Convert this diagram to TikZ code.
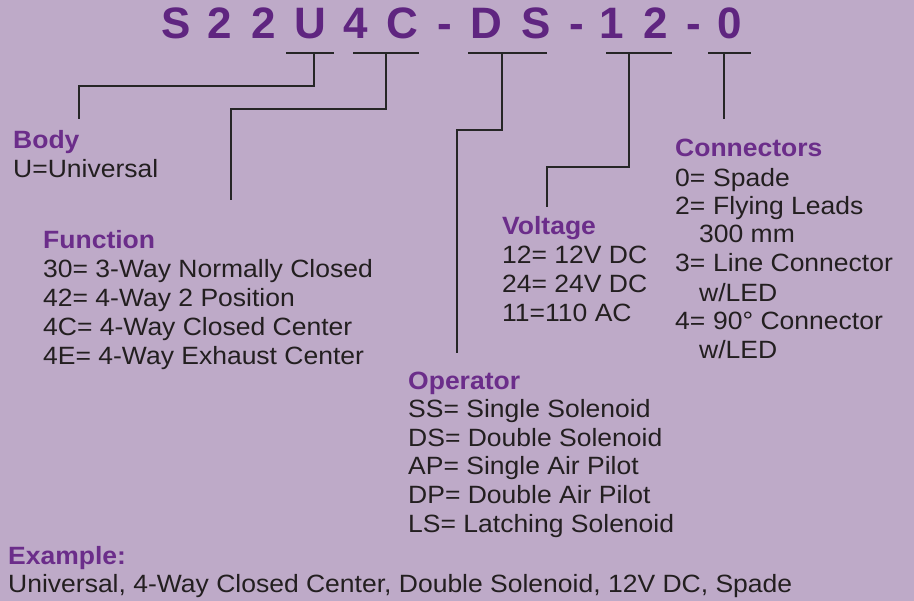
\documentclass[tikz,border=0pt]{standalone}
\usepackage{fontspec}
\setmainfont{Liberation Sans}[FakeStretch=1.06]
\newfontfamily\titlefont{Liberation Sans}
\definecolor{bg}{HTML}{BEAAC8}
\definecolor{headc}{HTML}{6B2D8A}
\definecolor{titlec}{HTML}{5F2580}
\definecolor{txtc}{HTML}{231F20}
\definecolor{linec}{HTML}{262626}
\tikzset{
  txt/.style={anchor=base west, inner sep=0pt, text=txtc, font=\fontsize{25}{29}\selectfont},
  head/.style={anchor=base west, inner sep=0pt, text=headc, font=\fontsize{25}{29}\selectfont\bfseries},
  tchar/.style={anchor=base, inner sep=0pt, text=titlec, font=\titlefont\fontsize{44}{50}\selectfont\bfseries},
  uline/.style={draw=linec, line width=2.6pt},
  conn/.style={draw=linec, line width=1.3pt},
}
\newcommand{\lbl}[1]{\makebox[38pt][l]{#1}}
\begin{document}
\begin{tikzpicture}[x=1pt,y=-1pt]
\fill[bg] (0,0) rectangle (914,601);
\useasboundingbox (0,0) rectangle (914,601);
% title characters
\foreach \c/\x/\n in {S/176/t1,2/220/t2,2/263.5/t3,U/310/t4,4/356/t5,C/402.5/t6,-/445/t7,D/486/t8,S/536/t9,-/576.5/t10,1/611.5/t11,2/655.5/t12,-/693.5/t13,0/729.5/t14}
  \node[tchar] (\n) at (\x,39) {\c};
% underline coordinates
\coordinate (uA1) at (286,53); \coordinate (uA2) at (334,53); \coordinate (uA) at (314,53);
\coordinate (uB1) at (353,53); \coordinate (uB2) at (419,53); \coordinate (uB) at (386,53);
\coordinate (uC1) at (468,53); \coordinate (uC2) at (547,53); \coordinate (uC) at (502,53);
\coordinate (uD1) at (606,53); \coordinate (uD2) at (672,53); \coordinate (uD) at (629,53);
\coordinate (uE1) at (708,53); \coordinate (uE2) at (751,53); \coordinate (uE) at (724,53);
\draw[uline] (uA1) -- (uA2);
\draw[uline] (uB1) -- (uB2);
\draw[uline] (uC1) -- (uC2);
\draw[uline] (uD1) -- (uD2);
\draw[uline] (uE1) -- (uE2);
% connector end points
\coordinate (eA) at (79,119);
\coordinate (eB) at (231,200);
\coordinate (eC) at (457,353);
\coordinate (eD) at (547,207);
\coordinate (eE) at (724,119);
\draw[conn] (uA) -- (314,86) -| (eA);
\draw[conn] (uB) -- (386,109) -| (eB);
\draw[conn] (uC) -- (502,130) -| (eC);
\draw[conn] (uD) -- (629,167) -| (eD);
\draw[conn] (uE) -- (eE);
% Body
\node[head] (body) at (13,149) {Body};
\node[txt] (body1) at (13,178) {U=Universal};
% Function
\node[head] (func) at (43,249) {Function};
\node[txt] (func1) at (43,278) {30= 3-Way Normally Closed};
\node[txt] (func2) at (43,307) {42= 4-Way 2 Position};
\node[txt] (func3) at (43,336) {4C= 4-Way Closed Center};
\node[txt] (func4) at (43,365) {4E= 4-Way Exhaust Center};
% Operator
\node[head] (oper) at (408,390) {Operator};
\node[txt] (oper1) at (408,418) {SS= Single Solenoid};
\node[txt] (oper2) at (408,447) {DS= Double Solenoid};
\node[txt] (oper3) at (408,475) {AP= Single Air Pilot};
\node[txt] (oper4) at (408,504) {DP= Double Air Pilot};
\node[txt] (oper5) at (408,533) {LS= Latching Solenoid};
% Voltage
\node[head] (volt) at (502,235) {Voltage};
\node[txt] (volt1) at (502,264) {12= 12V DC};
\node[txt] (volt2) at (502,293) {24= 24V DC};
\node[txt] (volt3) at (502,322) {11=110 AC};
% Connectors
\node[head] (conr) at (675,157) {Connectors};
\node[txt] (conr1) at (675,187) {\lbl{0=}Spade};
\node[txt] (conr2) at (675,215) {\lbl{2=}Flying Leads};
\node[txt] (conr3) at (699,243) {300 mm};
\node[txt] (conr4) at (675,272) {\lbl{3=}Line Connector};
\node[txt] (conr5) at (699,302) {w/LED};
\node[txt] (conr6) at (675,330) {\lbl{4=}90° Connector};
\node[txt] (conr7) at (699,359) {w/LED};
% Example
\node[head] (ex) at (8,565) {Example:};
\node[txt] (ex1) at (8,593) {Universal, 4-Way Closed Center, Double Solenoid, 12V DC, Spade};
\end{tikzpicture}
\end{document}
